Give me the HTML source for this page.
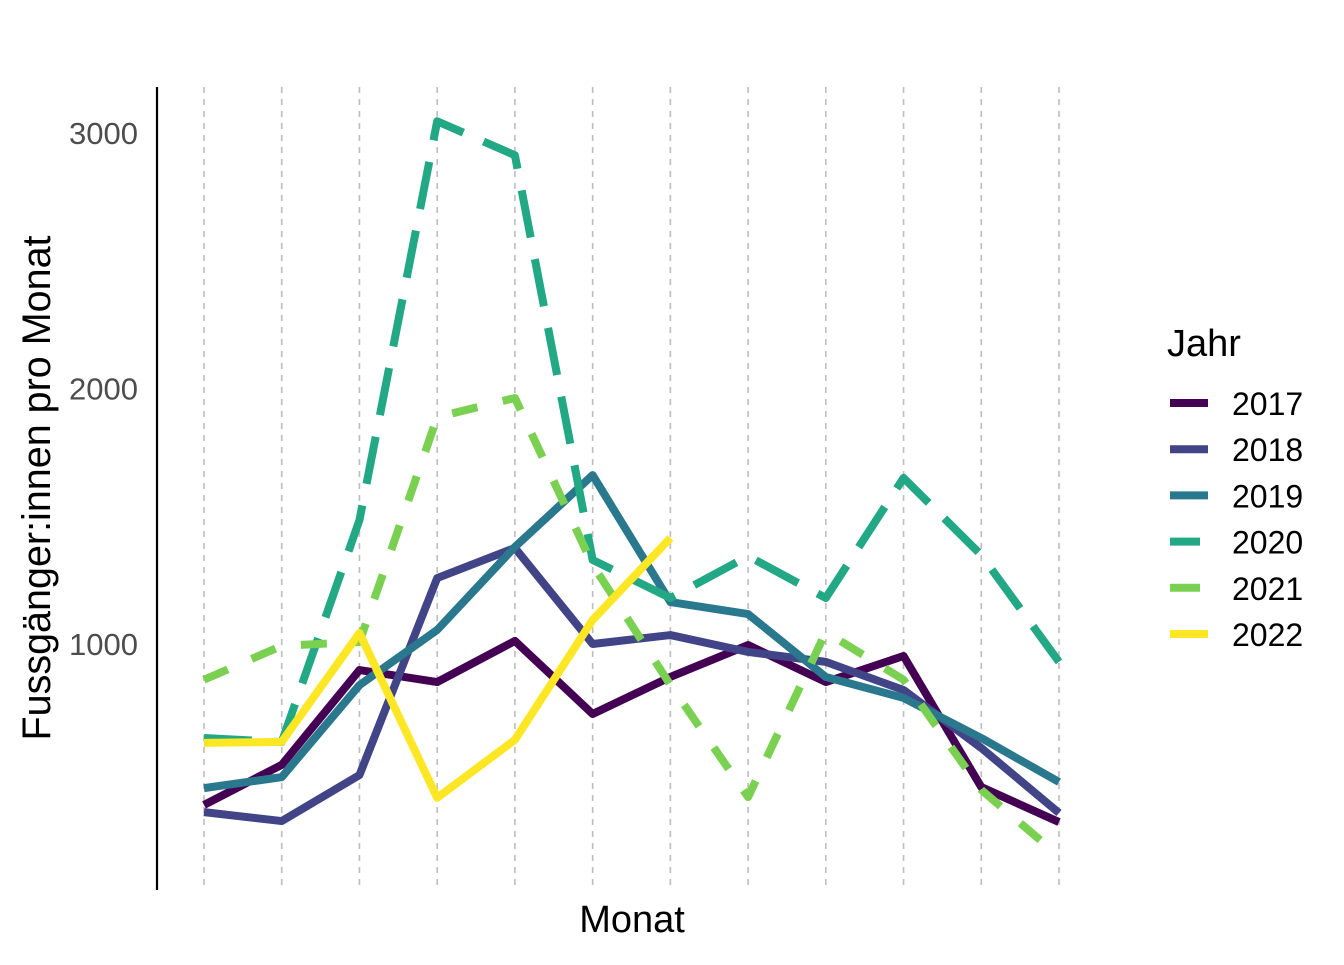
<!DOCTYPE html>
<html><head><meta charset="utf-8"><style>
body{margin:0;background:#fff;}
svg text{font-family:"Liberation Sans",Arial,sans-serif;}
</style></head><body>
<svg id="chart" width="1344" height="960">
<g id="grid"></g>
<line x1="157" y1="87" x2="157" y2="890" stroke="#000" stroke-width="2.2"/>
<g id="yticks"></g>
<g id="lines"></g>
<text x="50" y="488" font-size="39.5" text-anchor="middle" transform="rotate(-90 50 488)">Fussgänger:innen pro Monat</text>
<text x="632" y="932" font-size="38" text-anchor="middle">Monat</text>
<g id="legend">
<text x="1167" y="356" font-size="38">Jahr</text>
</g>
</svg>
<script>
const months=[1,2,3,4,5,6,7,8,9,10,11,12];
const yTicks=[1000,2000,3000];
const years=["2017","2018","2019","2020","2021","2022"];
const v2017=[370,527,898,851,1012,726,871,996,851,953,440,303];
const v2018=[342,307,487,1258,1376,1000,1035,969,930,820,593,339];
const v2019=[436,479,839,1055,1380,1661,1164,1117,871,789,632,460];
const v2020=[632,616,1485,3046,2913,1329,1180,1344,1180,1650,1348,930];
const v2021=[860,993,1008,1888,1963,1310,840,401,1047,860,429,170];
const v2022=[613,617,1043,398,625,1094,1415];
const series=[v2017,v2018,v2019,v2020,v2021,v2022];
const colors=["#440154","#414487","#2A788E","#22A884","#7AD151","#FDE725"];
const dashes=["","","","48 22","26 26",""];
const NS="http://www.w3.org/2000/svg";
const x=m=>204+(m-1)*(1059-204)/11;
const y=v=>899.5-v*0.2555;
function mk(t,a,p){const e=document.createElementNS(NS,t);for(const k in a)e.setAttribute(k,a[k]);p.appendChild(e);return e;}
const grid=document.getElementById('grid');
months.forEach(m=>{const l=mk('line',{x1:x(m),x2:x(m),y1:87,y2:890,stroke:'#bdbdbd','stroke-width':1.6,'stroke-dasharray':'6 6'},grid);

});
const yt=document.getElementById('yticks');
yTicks.forEach(t=>{
const tx=mk('text',{x:138,y:y(t)+11,'font-size':31,'text-anchor':'end',fill:'#4d4d4d'},yt);tx.textContent=t;

});
const lg=document.getElementById('lines');
series.forEach((s,i)=>{const p=mk('polyline',{points:s.map((v,j)=>x(months[j])+','+y(v)).join(' '),fill:'none',stroke:colors[i],'stroke-width':8,'stroke-linejoin':'round','stroke-dasharray':dashes[i]},lg);

});
const leg=document.getElementById('legend');
years.forEach((yr,i)=>{const yy=403+i*46.2;
const k=mk('line',{x1:1170,x2:1208,y1:yy,y2:yy,stroke:colors[i],'stroke-width':8,'stroke-dasharray':dashes[i]?'30 8':''},leg);


const t=mk('text',{x:1232,y:yy+12,'font-size':32},leg);t.textContent=yr;

});
</script>
</body></html>
